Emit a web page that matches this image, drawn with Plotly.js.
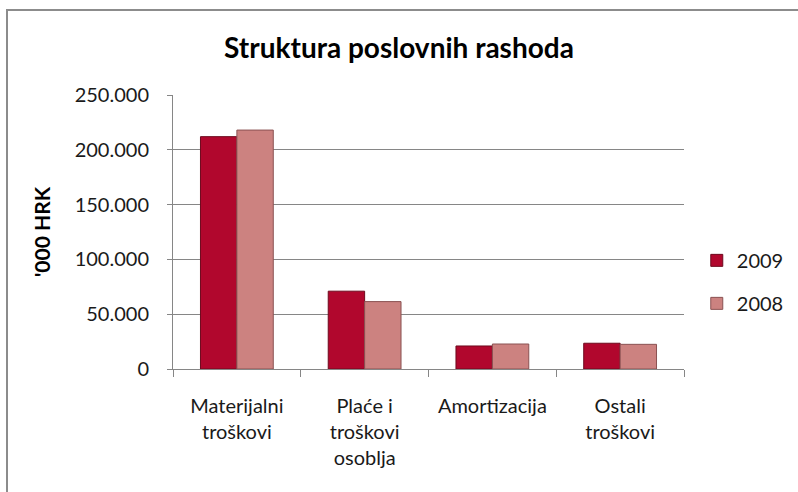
<!DOCTYPE html>
<html>
<head>
<meta charset="utf-8">
<script src="https://cdn.plot.ly/plotly-3.0.1.min.js"></script>
<style>
html,body{margin:0;padding:0;background:#fff;}
#chart{width:798px;height:492px;}
</style>
</head>
<body>
<div id="chart"></div>
<script>
const categories = ["Materijalni<br>troškovi", "Plaće i<br>troškovi<br>osoblja", "Amortizacija", "Ostali<br>troškovi"];
const seriesNames = ["2009", "2008"];
const values2009 = [212000, 71000, 21000, 23500];
const values2008 = [218000, 61500, 22800, 22500];
const yTicks = [0, 50000, 100000, 150000, 200000, 250000];

const font = "Lato, 'Open Sans', sans-serif";

const traces = [
  {
    type: "bar", name: seriesNames[0], x: categories, y: values2009,
    legendgroup: "a",
    marker: {color: "#B1072D", line: {color: "#6E0A1E", width: 1}}
  },
  {
    type: "bar", name: seriesNames[1], x: categories, y: values2008,
    legendgroup: "b",
    marker: {color: "#CC8280", line: {color: "#8A5252", width: 1}}
  }
];

const layout = {
  width: 798, height: 492,
  margin: {l: 173, r: 114, t: 95, b: 123, autoexpand: false},
  paper_bgcolor: "#fff", plot_bgcolor: "#fff",
  separators: ",.",
  font: {family: font, size: 20, color: "#1a1a1a"},
  title: {
    text: "<b>Struktura poslovnih rashoda</b>",
    font: {family: font, size: 28, color: "#000"},
    x: 0.5, xref: "container", xanchor: "center",
    y: 1 - 48/492, yref: "container", yanchor: "middle"
  },
  bargap: 0.43, bargroupgap: 0,
  barmode: "group",
  xaxis: {
    type: "category",
    showline: true, linecolor: "#868686", linewidth: 1,
    ticks: "outside", tickson: "boundaries", ticklen: 7, tickcolor: "#868686",
    ticklabelstandoff: 19,
    tickfont: {family: font, size: 20, color: "#1a1a1a"},
    showgrid: false, zeroline: false
  },
  yaxis: {
    range: [0, 250000], tickvals: yTicks, tickformat: ",d",
    showline: true, linecolor: "#868686", linewidth: 1,
    ticks: "outside", ticklen: 5, tickcolor: "#868686",
    ticklabelstandoff: 14,
    gridcolor: "#868686", gridwidth: 1, zeroline: false,
    tickfont: {family: font, size: 20, color: "#1a1a1a"},
    title: {text: "<b>'000 HRK</b>", font: {family: font, size: 21, color: "#000"}, standoff: 18}
  },
  legend: {
    x: 1.025, xanchor: "left", y: 0.318, yanchor: "middle",
    font: {family: font, size: 20, color: "#1a1a1a"},
    tracegroupgap: 14, bgcolor: "rgba(0,0,0,0)"
  },
  shapes: [{
    type: "rect", xref: "paper", yref: "paper",
    x0: (7 - 173) / 511, x1: 1.6, y0: -1, y1: (369 - 10) / 274,
    line: {color: "#8c8c8c", width: 2}, fillcolor: "rgba(0,0,0,0)", layer: "below"
  }]
};

Plotly.newPlot("chart", traces, layout, {displayModeBar: false, staticPlot: true});
</script>
</body>
</html>
